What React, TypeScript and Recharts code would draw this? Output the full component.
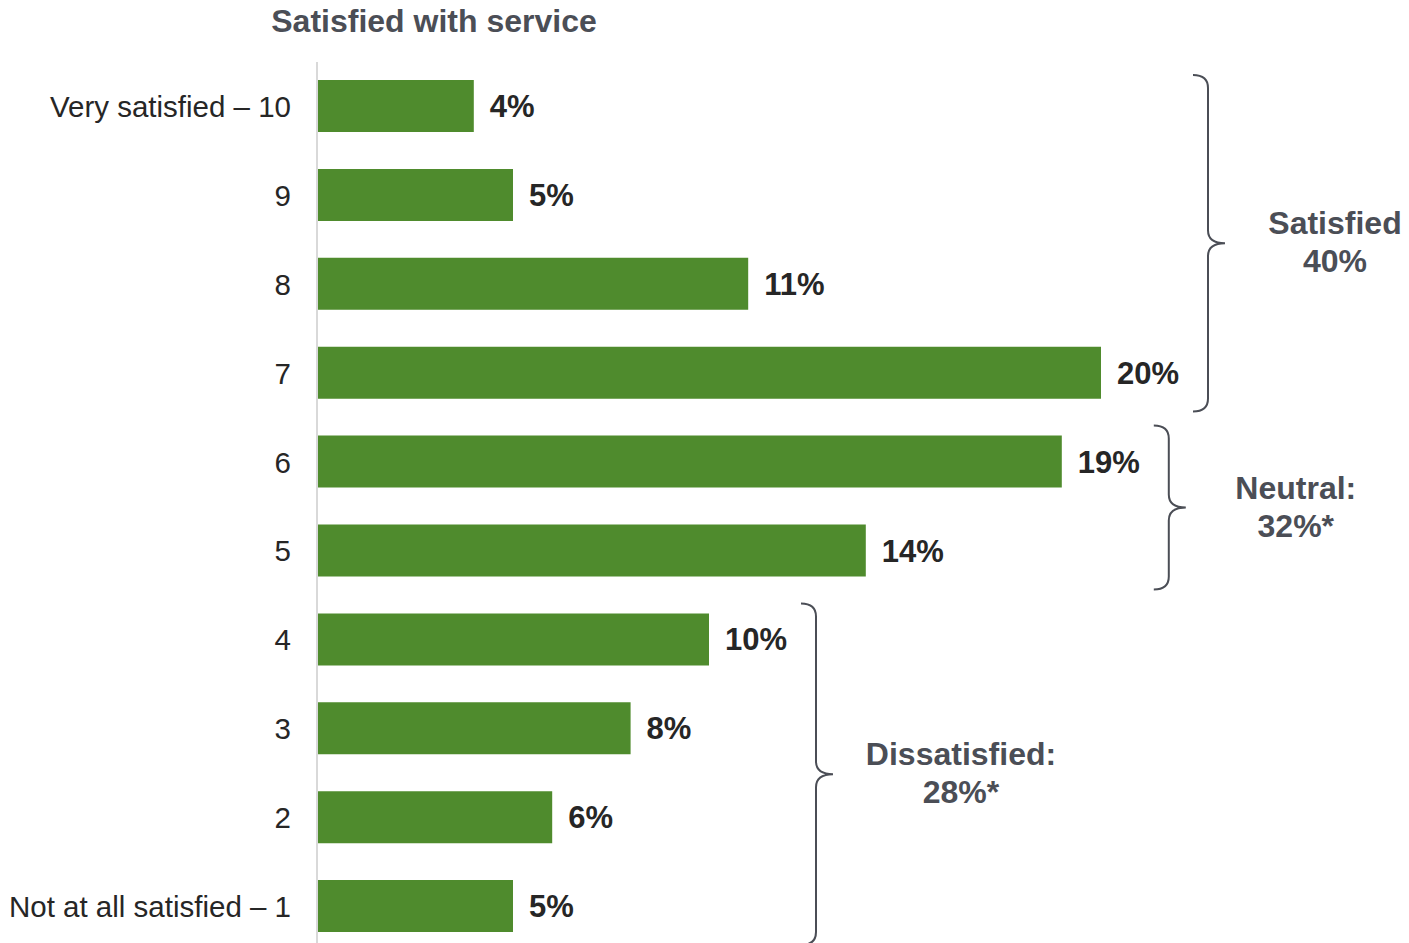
import { BarChart, Bar, XAxis, YAxis, ReferenceArea, LabelList } from "recharts";

const scores = ["10", "9", "8", "7", "6", "5", "4", "3", "2", "1"];
const tickLabels = ["Very satisfied – 10", "9", "8", "7", "6", "5", "4", "3", "2", "Not at all satisfied – 1"];
const shares = [4, 5, 11, 20, 19, 14, 10, 8, 6, 5];

const groupNames = ["Satisfied", "Neutral:", "Dissatisfied:"];
const groupTotals = ["40%", "32%*", "28%*"];
const groupFrom = ["10", "6", "4"];
const groupTo = ["7", "5", "1"];
const groupMax = [20, 19, 10];

const data = scores.map((s, i) => ({ score: s, value: shares[i] }));

const GREY = "#4b4e56";
const FONT = "'Liberation Sans', Arial, sans-serif";

function Brace(props: any) {
    const { x, y, height, name, total, dx, padTop } = props;
    const top = y + padTop;
    const bottom = y + height - 6;
    const mid = (top + bottom) / 2;
    const x0 = x + 92;
    const xv = x0 + 15;
    const xt = x0 + 32;
    const r = 13;
    const d = `M ${x0} ${top} Q ${xv} ${top} ${xv} ${top + r} L ${xv} ${mid - r} Q ${xv} ${mid} ${xt} ${mid} Q ${xv} ${mid} ${xv} ${mid + r} L ${xv} ${bottom - r} Q ${xv} ${bottom} ${x0} ${bottom}`;
    return (
        <g>
            <path d={d} fill="none" stroke={GREY} strokeWidth={2} />
            <text x={xt + dx} y={mid - 9} textAnchor="middle" fontSize={32} fontWeight="bold" fill={GREY} fontFamily={FONT}>
                {name}
            </text>
            <text x={xt + dx} y={mid + 29} textAnchor="middle" fontSize={32} fontWeight="bold" fill={GREY} fontFamily={FONT}>
                {total}
            </text>
        </g>
    );
}

const labelDx = [110, 110, 128];
const bracePad = [13, 8, 8];

export default function App() {
    return (
        <div style={{ position: "absolute", left: 0, top: 0, width: 1409, height: 943, overflow: "hidden", fontFamily: FONT }}>
            <div style={{ position: "absolute", left: 234, top: 5, width: 400, textAlign: "center", fontSize: 32, lineHeight: "32px", fontWeight: "bold", color: GREY }}>
                Satisfied with service
            </div>
            <BarChart width={1409} height={951} data={data} layout="vertical" margin={{ top: 62, right: 112, bottom: 0, left: 0 }}>
                <XAxis type="number" domain={[0, 25]} hide />
                <YAxis
                    type="category"
                    dataKey="score"
                    width={317}
                    axisLine={{ stroke: "#d9d9d9", strokeWidth: 2 }}
                    tickLine={false}
                    tickSize={0}
                    tickMargin={26}
                    tick={{ fontSize: 29.5, fill: "#262626", fontFamily: FONT }}
                    tickFormatter={(v: string) => tickLabels[scores.indexOf(v)]}
                />
                <Bar dataKey="value" fill="#4f8b2d" barSize={52} isAnimationActive={false}>
                    <LabelList
                        dataKey="value"
                        position="right"
                        offset={16}
                        formatter={(v: any) => `${v}%`}
                        style={{ fontSize: 31, fontWeight: "bold", fill: "#262626", fontFamily: FONT }}
                    />
                </Bar>
                {groupNames.map((g, i) => (
                    <ReferenceArea
                        key={g}
                        x1={groupMax[i]}
                        x2={groupMax[i]}
                        y1={groupFrom[i]}
                        y2={groupTo[i]}
                        ifOverflow="visible"
                        shape={(p: any) => <Brace {...p} name={g} total={groupTotals[i]} dx={labelDx[i]} padTop={bracePad[i]} />}
                    />
                ))}
            </BarChart>
        </div>
    );
}
